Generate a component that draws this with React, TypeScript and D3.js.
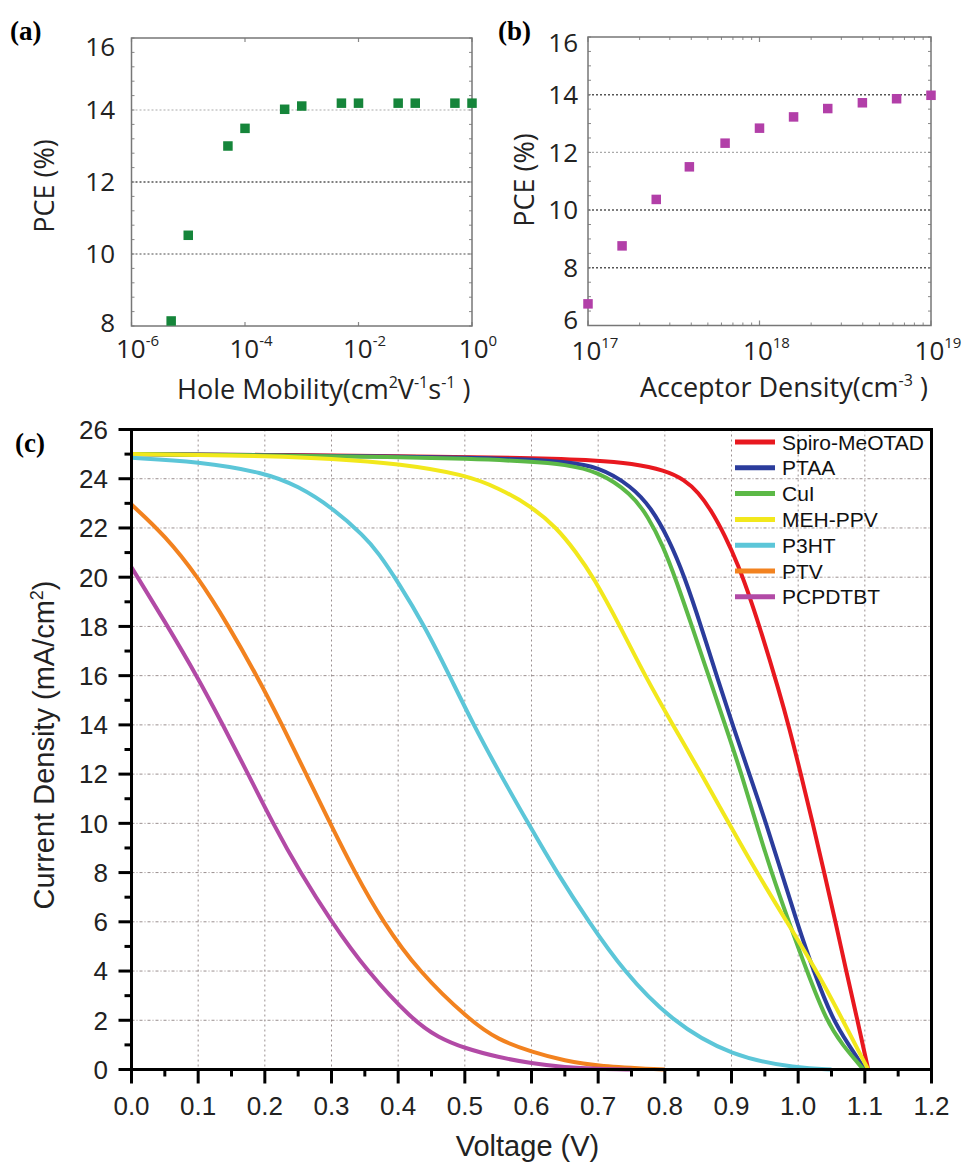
import React from "react";
import * as d3 from "d3";

// ---------- Panel (a) data ----------
const mobility = [5e-6, 1e-5, 5e-5, 1e-4, 5e-4, 1e-3, 5e-3, 1e-2, 5e-2, 1e-1, 5e-1, 1];
const pceMobility = [8.14, 10.52, 13.0, 13.49, 14.02, 14.11, 14.19, 14.19, 14.19, 14.19, 14.19, 14.19];
const ticksA = [8, 10, 12, 14, 16];
const decadesA = [-6, -4, -2, 0];

// ---------- Panel (b) data ----------
const density = [1e17, 1.58e17, 2.5e17, 3.9e17, 6.3e17, 1e18, 1.58e18, 2.5e18, 3.98e18, 6.3e18, 1e19];
const pceDensity = [6.75, 8.76, 10.37, 11.5, 12.32, 12.84, 13.23, 13.52, 13.72, 13.86, 13.98];
const ticksB = [6, 8, 10, 12, 14, 16];
const decadesB = [17, 18, 19];

// ---------- Panel (c) data ----------
const spiroV = [0, 0.2, 0.4, 0.6, 0.7, 0.75, 0.8, 0.83, 0.85, 0.87, 0.89, 0.91, 0.93, 0.95, 0.97, 0.987, 1.004, 1.022, 1.039, 1.056, 1.072, 1.089, 1.105];
const spiroJ = [25.0, 24.97, 24.92, 24.85, 24.75, 24.62, 24.35, 23.95, 23.45, 22.7, 21.7, 20.5, 19.0, 17.3, 15.5, 13.85, 12, 10, 8, 6, 4, 2, 0];
const ptaaV = [0, 0.2, 0.4, 0.5, 0.6, 0.65, 0.7, 0.75, 0.78, 0.805, 0.83, 0.855, 0.88, 0.903, 0.928, 0.952, 0.975, 0.998, 1.023, 1.052, 1.076, 1.1];
const ptaaJ = [25.0, 24.96, 24.9, 24.86, 24.78, 24.68, 24.5, 23.7, 22.8, 21.6, 20.0, 17.95, 15.8, 13.9, 11.9, 10, 8, 6, 4, 2, 1, 0];
const cuiV = [0, 0.2, 0.4, 0.5, 0.6, 0.65, 0.7, 0.75, 0.775, 0.797, 0.818, 0.842, 0.868, 0.893, 0.915, 0.937, 0.96, 0.986, 1.013, 1.042, 1.066, 1.098];
const cuiJ = [25.0, 24.95, 24.88, 24.82, 24.7, 24.58, 24.3, 23.4, 22.45, 21.3, 19.8, 17.9, 15.8, 13.8, 12, 10, 8, 6, 4, 2, 1, 0];
const mehV = [0, 0.1, 0.2, 0.3, 0.4, 0.5, 0.55, 0.6, 0.638, 0.666, 0.693, 0.733, 0.77, 0.812, 0.855, 0.896, 0.938, 0.983, 1.028, 1.067, 1.105];
const mehJ = [25.0, 24.97, 24.92, 24.82, 24.62, 24.17, 23.63, 22.88, 22.0, 21.05, 20, 18, 16, 14, 12, 10, 8, 6, 4, 2, 0];
const p3htV = [0, 0.1, 0.2, 0.25, 0.3, 0.35, 0.37, 0.4, 0.44, 0.477, 0.513, 0.553, 0.595, 0.638, 0.686, 0.738, 0.808, 0.9, 1.0, 1.05];
const p3htJ = [24.85, 24.7, 24.25, 23.7, 22.85, 21.65, 21.0, 19.8, 18, 16, 14, 12, 10, 8, 6, 4, 2, 0.52, 0.05, 0];
const ptvV = [0, 0.05, 0.1, 0.145, 0.188, 0.226, 0.262, 0.298, 0.335, 0.377, 0.43, 0.507, 0.55, 0.6, 0.65, 0.7, 0.8];
const ptvJ = [22.95, 21.7, 20.0, 18.05, 16, 14, 12, 10, 8, 6, 4, 2, 1.2, 0.72, 0.35, 0.13, 0];
const pcpV = [0, 0.05, 0.1, 0.137, 0.175, 0.212, 0.253, 0.3, 0.353, 0.422, 0.46, 0.5, 0.55, 0.6, 0.65, 0.7, 0.75];
const pcpJ = [20.4, 18.2, 15.9, 14, 12, 10, 8, 6, 4, 2, 1.3, 0.86, 0.5, 0.25, 0.09, 0.02, 0];

const seriesNames = ["Spiro-MeOTAD", "PTAA", "CuI", "MEH-PPV", "P3HT", "PTV", "PCPDTBT"];
const seriesColors = ["#e8181f", "#2b3c9c", "#5cb947", "#f2e81c", "#5cc6d8", "#f2821f", "#b24aa6"];
const seriesV = [spiroV, ptaaV, cuiV, mehV, p3htV, ptvV, pcpV];
const seriesJ = [spiroJ, ptaaJ, cuiJ, mehJ, p3htJ, ptvJ, pcpJ];
const voltTicks = [0, 0.1, 0.2, 0.3, 0.4, 0.5, 0.6, 0.7, 0.8, 0.9, 1.0, 1.1, 1.2];
const currTicks = [0, 2, 4, 6, 8, 10, 12, 14, 16, 18, 20, 22, 24, 26];

const sans = "'Open Sans', 'Noto Sans', sans-serif";
const arial = "Arial, 'Liberation Sans', sans-serif";
const serif = "'Times New Roman', 'Liberation Serif', serif";

export default function App() {
  const xA = d3.scaleLog().domain([1e-6, 1]).range([131.5, 472]);
  const yA = d3.scaleLinear().domain([8, 16]).range([326, 38]);
  const xB = d3.scaleLog().domain([1e17, 1e19]).range([588, 931]);
  const yB = d3.scaleLinear().domain([6, 16]).range([325.5, 37]);
  const xC = d3.scaleLinear().domain([0, 1.2]).range([131.5, 931.5]);
  const yC = d3.scaleLinear().domain([0, 26]).range([1069.5, 429.5]);

  const line = d3
    .line<[number, number]>()
    .x((d) => xC(d[0]))
    .y((d) => yC(d[1]))
    .curve(d3.curveBasis);

  const ms = 9.5;
  const gridA = [
    { v: 10, c: "#888", w: 1.3 },
    { v: 12, c: "#555", w: 1.5 },
    { v: 14, c: "#aaa", w: 1.2 },
  ];
  const gridB = [
    { v: 8, c: "#555", w: 1.5 },
    { v: 10, c: "#555", w: 1.5 },
    { v: 12, c: "#aaa", w: 1.2 },
    { v: 14, c: "#555", w: 1.5 },
  ];
  const minorA = d3.range(8, 16.01, 0.4);
  const minorB = d3.range(6, 16.01, 0.5);
  const logMinorB: number[] = [];
  [17, 18].forEach((e) => {
    for (let k = 2; k <= 9; k++) logMinorB.push(k * Math.pow(10, e));
  });
  const minorC = d3.range(1, 26, 2);
  const minorVC = d3.range(0.05, 1.2, 0.1);
  const labOffA: Record<number, number> = { 16: 9, 8: -3 };
  const labOffB: Record<number, number> = { 16: 6, 6: -6 };

  return (
    <svg width={964} height={1164} style={{ position: "absolute", left: 0, top: 0, background: "#fff" }}>
      <rect x={0} y={0} width={964} height={1164} fill="#fff" />

      {/* ================= Panel (a) ================= */}
      <text x={10} y={40} fontFamily={serif} fontWeight="bold" fontSize={27}>(a)</text>
      {gridA.map((g) => (
        <line key={g.v} x1={xA(1e-6)} x2={xA(1)} y1={yA(g.v)} y2={yA(g.v)} stroke={g.c} strokeWidth={g.w} strokeDasharray="2,2" />
      ))}
      {minorA.map((v, i) => (
        <g key={i}>
          <line x1={xA(1e-6)} x2={xA(1e-6) + 3} y1={yA(v)} y2={yA(v)} stroke="#888" strokeWidth={1} />
          <line x1={xA(1)} x2={xA(1) - 3} y1={yA(v)} y2={yA(v)} stroke="#888" strokeWidth={1} />
        </g>
      ))}
      {decadesA.map((e) => (
        <g key={e}>
          <line x1={xA(Math.pow(10, e))} x2={xA(Math.pow(10, e))} y1={yA(16)} y2={yA(16) + 4} stroke="#888" strokeWidth={1.2} />
          <line x1={xA(Math.pow(10, e))} x2={xA(Math.pow(10, e))} y1={yA(8)} y2={yA(8) - 4} stroke="#888" strokeWidth={1.2} />
        </g>
      ))}
      <rect x={xA(1e-6)} y={yA(16)} width={xA(1) - xA(1e-6)} height={yA(8) - yA(16)} fill="none" stroke="#777" strokeWidth={1.5} />
      {mobility.map((m, i) => (
        <rect key={i} x={xA(m) - ms / 2} y={yA(pceMobility[i]) - ms / 2} width={ms} height={ms} fill="#15853a" />
      ))}
      {ticksA.map((t) => (
        <text key={t} x={115} y={yA(t) + (labOffA[t] || 0)} dy="0.36em" textAnchor="end" fontFamily={sans} fontSize={26} fill="#222">{t}</text>
      ))}
      {decadesA.map((e) => (
        <text key={e} x={xA(Math.pow(10, e)) + 6} y={358} textAnchor="middle" fontFamily={sans} fontSize={26} fill="#222">
          10<tspan dy={-12} fontSize={15}>{e === 0 ? "0" : "-" + -e}</tspan>
        </text>
      ))}
      <text transform={`translate(54,186) rotate(-90)`} textAnchor="middle" fontFamily={sans} fontSize={27} fill="#222">PCE (%)</text>
      <text x={177} y={399} fontFamily={sans} fontSize={27} fill="#222">
        Hole Mobility(cm<tspan dy={-11} fontSize={16}>2</tspan><tspan dy={11}>V</tspan><tspan dy={-11} fontSize={16}>-1</tspan><tspan dy={11}>s</tspan><tspan dy={-11} fontSize={16}>-1</tspan><tspan dy={11}> )</tspan>
      </text>

      {/* ================= Panel (b) ================= */}
      <text x={498} y={40} fontFamily={serif} fontWeight="bold" fontSize={27}>(b)</text>
      {gridB.map((g) => (
        <line key={g.v} x1={xB(1e17)} x2={xB(1e19)} y1={yB(g.v)} y2={yB(g.v)} stroke={g.c} strokeWidth={g.w} strokeDasharray="2,2" />
      ))}
      {minorB.map((v, i) => (
        <g key={i}>
          <line x1={xB(1e17)} x2={xB(1e17) + 3} y1={yB(v)} y2={yB(v)} stroke="#888" strokeWidth={1} />
          <line x1={xB(1e19)} x2={xB(1e19) - 3} y1={yB(v)} y2={yB(v)} stroke="#888" strokeWidth={1} />
        </g>
      ))}
      {logMinorB.map((v, i) => (
        <g key={i}>
          <line x1={xB(v)} x2={xB(v)} y1={yB(6)} y2={yB(6) - 3} stroke="#888" strokeWidth={1} />
          <line x1={xB(v)} x2={xB(v)} y1={yB(16)} y2={yB(16) + 3} stroke="#888" strokeWidth={1} />
        </g>
      ))}
      {decadesB.map((e) => (
        <g key={e}>
          <line x1={xB(Math.pow(10, e))} x2={xB(Math.pow(10, e))} y1={yB(6)} y2={yB(6) - 5} stroke="#888" strokeWidth={1.2} />
          <line x1={xB(Math.pow(10, e))} x2={xB(Math.pow(10, e))} y1={yB(16)} y2={yB(16) + 5} stroke="#888" strokeWidth={1.2} />
        </g>
      ))}
      <rect x={xB(1e17)} y={yB(16)} width={xB(1e19) - xB(1e17)} height={yB(6) - yB(16)} fill="none" stroke="#777" strokeWidth={1.5} />
      {density.map((m, i) => (
        <rect key={i} x={xB(m) - ms / 2} y={yB(pceDensity[i]) - ms / 2} width={ms} height={ms} fill="#b23fa8" />
      ))}
      {ticksB.map((t) => (
        <text key={t} x={578} y={yB(t) + (labOffB[t] || 0)} dy="0.36em" textAnchor="end" fontFamily={sans} fontSize={26} fill="#222">{t}</text>
      ))}
      {decadesB.map((e) => (
        <text key={e} x={xB(Math.pow(10, e)) + 7} y={360} textAnchor="middle" fontFamily={sans} fontSize={26} fill="#222">
          10<tspan dy={-12} fontSize={15}>{e}</tspan>
        </text>
      ))}
      <text transform={`translate(534,180) rotate(-90)`} textAnchor="middle" fontFamily={sans} fontSize={27} fill="#222">PCE (%)</text>
      <text x={640} y={397} fontFamily={sans} fontSize={27} fill="#222">
        Acceptor Density(cm<tspan dy={-11} fontSize={16}>-3</tspan><tspan dy={11}> )</tspan>
      </text>

      {/* ================= Panel (c) ================= */}
      <text x={15} y={452} fontFamily={serif} fontWeight="bold" fontSize={27}>(c)</text>
      {voltTicks.slice(1, -1).map((v) => (
        <line key={v} x1={xC(v)} x2={xC(v)} y1={yC(26)} y2={yC(0)} stroke="#9a8f8f" strokeWidth={1} strokeDasharray="2,3" />
      ))}
      {currTicks.slice(1, -1).map((v) => (
        <line key={v} x1={xC(0)} x2={xC(1.2)} y1={yC(v)} y2={yC(v)} stroke="#9a8f8f" strokeWidth={1} strokeDasharray="3,2,1,2" />
      ))}
      {seriesNames.map((n, i) => (
        <path
          key={n}
          d={line(seriesV[i].map((v, k) => [v, seriesJ[i][k]] as [number, number])) || ""}
          fill="none"
          stroke={seriesColors[i]}
          strokeWidth={4}
          strokeLinejoin="round"
        />
      ))}
      <rect x={xC(0)} y={yC(26)} width={xC(1.2) - xC(0)} height={yC(0) - yC(26)} fill="none" stroke="#000" strokeWidth={3} />
      {currTicks.map((t) => (
        <g key={t}>
          <line x1={xC(0) - 13} x2={xC(0)} y1={yC(t)} y2={yC(t)} stroke="#000" strokeWidth={3} />
          <text x={108} y={yC(t)} dy="0.36em" textAnchor="end" fontFamily={arial} fontSize={26} fill="#222">{t}</text>
        </g>
      ))}
      {minorC.map((t) => (
        <line key={t} x1={xC(0) - 7} x2={xC(0)} y1={yC(t)} y2={yC(t)} stroke="#000" strokeWidth={3} />
      ))}
      {voltTicks.map((v) => (
        <g key={v}>
          <line x1={xC(v)} x2={xC(v)} y1={yC(0)} y2={yC(0) + 14} stroke="#000" strokeWidth={3} />
          <text x={xC(v)} y={1115} textAnchor="middle" fontFamily={arial} fontSize={26} fill="#222">{v.toFixed(1)}</text>
        </g>
      ))}
      {minorVC.map((v, i) => (
        <line key={i} x1={xC(v)} x2={xC(v)} y1={yC(0)} y2={yC(0) + 7} stroke="#000" strokeWidth={3} />
      ))}
      <text transform={`translate(54,745) rotate(-90)`} textAnchor="middle" fontFamily={arial} fontSize={29} fill="#222">
        Current Density (mA/cm<tspan dy={-11} fontSize={18}>2</tspan><tspan dy={11}>)</tspan>
      </text>
      <text x={xC(0.6) - 4} y={1156} textAnchor="middle" fontFamily={arial} fontSize={29} fill="#222">Voltage (V)</text>

      {/* legend */}
      {seriesNames.map((n, i) => (
        <g key={n}>
          <line x1={735} x2={775} y1={442 + i * 25.8} y2={442 + i * 25.8} stroke={seriesColors[i]} strokeWidth={5} />
          <text x={782} y={442 + i * 25.8} dy="0.36em" fontFamily={arial} fontSize={21} fill="#111">{n}</text>
        </g>
      ))}
    </svg>
  );
}
